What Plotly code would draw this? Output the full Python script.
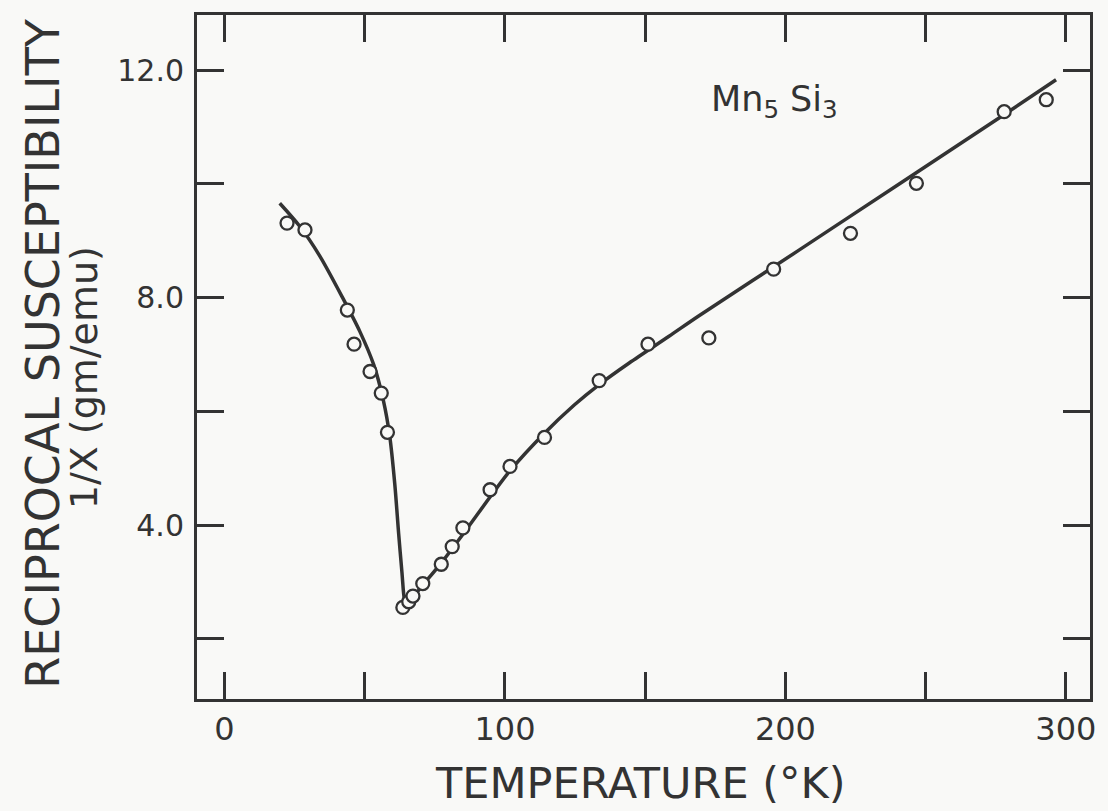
import plotly.graph_objects as go

# Measured data points: temperature (K) and reciprocal susceptibility (gm/emu)
temp_pts = [22.3, 28.7, 43.8, 46.2, 51.9, 55.9, 58.1, 63.6, 65.7, 67.2, 70.7, 77.3,
            81.2, 85.0, 94.7, 101.8, 114.1, 133.6, 151.0, 172.7, 195.8, 223.2,
            246.7, 278.0, 293.0]
recip_pts = [9.31, 9.19, 7.78, 7.18, 6.70, 6.32, 5.63, 2.55, 2.65, 2.75, 2.97, 3.31,
             3.62, 3.95, 4.62, 5.03, 5.54, 6.54, 7.18, 7.29, 8.50, 9.13,
             10.01, 11.27, 11.48]

# Hand-drawn fitted curve
temp_curve = [19.7, 26.9, 34.0, 42.2, 48.2, 53.2, 56.7, 58.9, 60.7, 62.1, 63.3, 64.2,
              64.9, 70.6, 77.4, 84.9, 94.8, 101.9, 114.0, 124.7, 133.6, 144.3,
              158.5, 169.2, 204.7, 240.3, 275.9, 296.5]
recip_curve = [9.66, 9.25, 8.73, 7.99, 7.41, 6.82, 6.18, 5.57, 4.73, 3.85, 3.15, 2.68,
               2.61, 2.94, 3.34, 3.83, 4.50, 4.96, 5.61, 6.11, 6.47, 6.85,
               7.32, 7.68, 8.83, 9.99, 11.15, 11.83]

x_major = [0, 100, 200, 300]
x_labels = ["0", "100", "200", "300"]
x_minor = [50, 150, 250]
y_major = [4, 8, 12]
y_labels = ["4.0", "8.0", "12.0"]
y_minor = [2, 6, 10]

INK = "#333333"
BG = "#f9f9f7"
FONT = "DejaVu Sans"

fig = go.Figure()
fig.add_trace(go.Scatter(
    x=temp_curve, y=recip_curve, mode="lines",
    line=dict(color=INK, width=3.5, shape="spline", smoothing=0.8),
    hoverinfo="skip", showlegend=False))
fig.add_trace(go.Scatter(
    x=temp_pts, y=recip_pts, mode="markers",
    marker=dict(symbol="circle", size=13, color=BG,
                line=dict(color=INK, width=2.3)),
    showlegend=False))

axis_common = dict(showline=True, linewidth=3, linecolor=INK, mirror="ticks",
                   ticks="inside", ticklen=27, tickwidth=2.5, tickcolor=INK,
                   showgrid=False, zeroline=False)

fig.update_xaxes(range=[-9.8, 308.6], tickmode="array", tickvals=x_major,
                 ticktext=x_labels, ticklabelstandoff=0,
                 minor=dict(tickmode="array", tickvals=x_minor, ticks="inside",
                            ticklen=27, tickwidth=2.5, tickcolor=INK, showgrid=False),
                 tickfont=dict(family=FONT, size=32, color=INK), **axis_common)
fig.update_yaxes(range=[0.94, 12.97], tickmode="array", tickvals=y_major,
                 ticktext=y_labels, ticklabelstandoff=4,
                 minor=dict(tickmode="array", tickvals=y_minor, ticks="inside",
                            ticklen=27, tickwidth=2.5, tickcolor=INK, showgrid=False),
                 tickfont=dict(family=FONT, size=30, color=INK), **axis_common)

fig.add_annotation(x=196.0, y=11.45, xref="x", yref="y",
                   text="Mn<sub>5</sub> Si<sub>3</sub>", showarrow=False,
                   xanchor="center", yanchor="middle",
                   font=dict(family=FONT, size=35, color=INK))
fig.add_annotation(x=0.497, y=-0.1618, xref="paper", yref="paper",
                   text="TEMPERATURE (°K)", showarrow=False,
                   xanchor="center", yanchor="bottom",
                   font=dict(family=FONT, size=43, color=INK))
fig.add_annotation(x=-0.1726, y=0.506, xref="paper", yref="paper",
                   text="RECIPROCAL SUSCEPTIBILITY", showarrow=False, textangle=-90,
                   xanchor="center", yanchor="middle",
                   font=dict(family=FONT, size=46, color=INK))
fig.add_annotation(x=-0.1265, y=0.469, xref="paper", yref="paper",
                   text="1/X (gm/emu)", showarrow=False, textangle=-90,
                   xanchor="center", yanchor="middle",
                   font=dict(family=FONT, size=38, color=INK))

fig.update_layout(width=1108, height=811,
                  margin=dict(l=197, r=16, t=13, b=112),
                  paper_bgcolor=BG, plot_bgcolor=BG)

fig.write_html("out.html")
